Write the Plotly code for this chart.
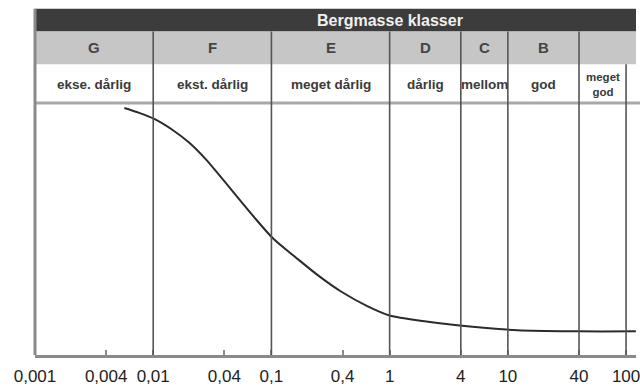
import numpy as np
import plotly.graph_objects as go

# Rock mass classes (Q-system): letter, label and class boundaries
class_letters = ["G", "F", "E", "D", "C", "B"]
class_names = ["ekse. dårlig", "ekst. dårlig", "meget dårlig", "dårlig",
               "mellom", "god", "meget<br>god"]
class_bounds = [0.001, 0.01, 0.1, 1, 4, 10, 40, 100]

# Axis ticks
tick_values = [0.001, 0.004, 0.01, 0.04, 0.1, 0.4, 1, 4, 10, 40, 100]
tick_labels = ["0,001", "0,004", "0,01", "0,04", "0,1", "0,4", "1", "4", "10", "40", "100"]

# Curve (relative level vs Q)
q_values = [0.0057, 0.0076, 0.0102, 0.0145, 0.0201, 0.0279, 0.0679, 0.104,
            0.159, 0.248, 0.388, 0.653, 1.0, 1.97, 3.73, 12.1, 40, 121]
level = [98.0, 96.1, 93.7, 89.4, 84.3, 77.6, 55.9, 46.1,
         38.9, 31.6, 25.2, 19.3, 15.7, 13.4, 11.8, 9.8, 9.4, 9.4]

W, H = 640, 386
M_L, M_R, M_T, M_B = 35, 0, 103, 29
PLOT_H = H - M_T - M_B


def py(px_y):
    """Paper y for a pixel row measured from the top of the page."""
    return (H - M_B - px_y) / PLOT_H


band_top, band_bot = py(8), py(31)
letter_top, letter_bot = py(31), py(64)

FONT = "Liberation Sans, Arial, sans-serif"

fig = go.Figure()
fig.add_trace(go.Scatter(
    x=q_values, y=level, mode="lines",
    line=dict(color="#2b2b2b", width=2, shape="spline", smoothing=0.8),
    hoverinfo="skip", showlegend=False,
))

shapes = []
# dark title band
shapes.append(dict(type="rect", xref="x", yref="paper", x0=class_bounds[0], x1=1000,
                   y0=band_bot, y1=band_top, fillcolor="#3c3c3c", line=dict(width=0),
                   layer="below"))
# grey letter row
shapes.append(dict(type="rect", xref="x", yref="paper", x0=class_bounds[0], x1=1000,
                   y0=letter_bot, y1=letter_top, fillcolor="#c6c6c6", line=dict(width=0),
                   layer="below"))
# horizontal rule under the class names
shapes.append(dict(type="line", xref="paper", yref="paper", x0=0, x1=1.01, y0=1, y1=1,
                   line=dict(color="#a8a8a8", width=3)))
# class boundaries
for b in class_bounds[1:]:
    top = letter_top if b < class_bounds[-1] else letter_bot
    shapes.append(dict(type="line", xref="x", yref="paper", x0=b, x1=b, y0=0, y1=top,
                       line=dict(color="#555555", width=1.6)))
# left frame edge
shapes.append(dict(type="line", xref="paper", yref="paper", x0=0, x1=0, y0=0, y1=band_top,
                   line=dict(color="#8a8a8a", width=3)))

annotations = [dict(
    x=np.log10(1), y=py(19.5), xref="x", yref="paper", text="<b>Bergmasse klasser</b>",
    showarrow=False, yanchor="middle", font=dict(family=FONT, size=16, color="#f0f0f0"),
)]
for i, letter in enumerate(class_letters):
    xc = (np.log10(class_bounds[i]) + np.log10(class_bounds[i + 1])) / 2
    annotations.append(dict(
        x=xc, y=py(47.5), xref="x", yref="paper", text=f"<b>{letter}</b>",
        showarrow=False, yanchor="middle", font=dict(family=FONT, size=15, color="#454545"),
    ))
for i, name in enumerate(class_names):
    xc = (np.log10(class_bounds[i]) + np.log10(class_bounds[i + 1])) / 2
    size = 11.5 if "<br>" in name else 13.5
    annotations.append(dict(
        x=xc, y=py(84), xref="x", yref="paper", text=f"<b>{name}</b>",
        showarrow=False, yanchor="middle", font=dict(family=FONT, size=size, color="#3a3a3a"),
    ))

fig.update_layout(
    width=W, height=H,
    margin=dict(l=M_L, r=M_R, t=M_T, b=M_B),
    paper_bgcolor="white", plot_bgcolor="white",
    shapes=shapes, annotations=annotations, showlegend=False,
)
fig.update_xaxes(
    type="log", range=[-3, -3 + (W - M_L - M_R) / 119.0],
    tickvals=tick_values, ticktext=tick_labels,
    tickfont=dict(family=FONT, size=17, color="#222222"),
    ticks="inside", ticklen=5, tickwidth=2, tickcolor="#8a8a8a",
    showgrid=False, zeroline=False,
    showline=True, linecolor="#8a8a8a", linewidth=3,
    ticklabelstandoff=4, ticklabeloverflow="allow",
)
fig.update_yaxes(range=[0, 100], visible=False, showgrid=False, zeroline=False)

fig.write_html("out.html")
